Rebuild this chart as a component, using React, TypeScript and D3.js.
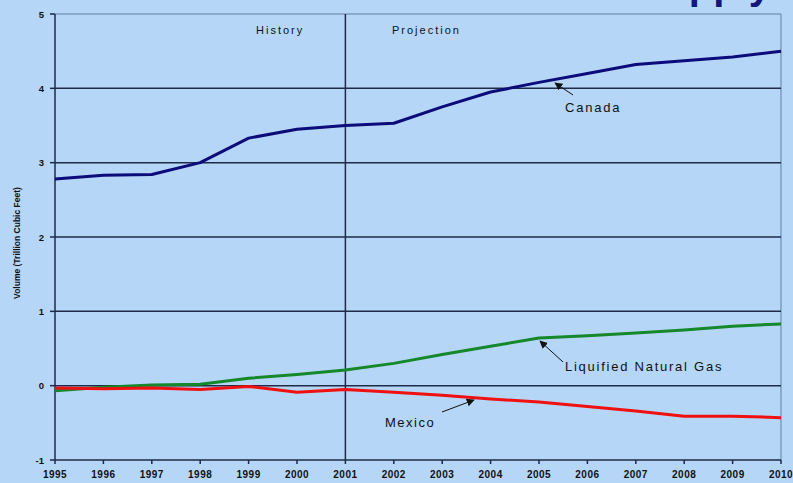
import React from "react";
import * as d3 from "d3";

const years = [1995, 1996, 1997, 1998, 1999, 2000, 2001, 2002, 2003, 2004, 2005, 2006, 2007, 2008, 2009, 2010];
const canada = [2.78, 2.83, 2.84, 3.0, 3.33, 3.45, 3.5, 3.53, 3.75, 3.95, 4.08, 4.2, 4.32, 4.37, 4.42, 4.5];
const lng = [-0.07, -0.02, 0.01, 0.02, 0.1, 0.15, 0.21, 0.3, 0.42, 0.53, 0.64, 0.67, 0.71, 0.75, 0.8, 0.83];
const mexico = [-0.03, -0.04, -0.03, -0.05, -0.01, -0.09, -0.05, -0.09, -0.13, -0.18, -0.22, -0.28, -0.34, -0.41, -0.41, -0.43];
const yTicks = [-1, 0, 1, 2, 3, 4, 5];
const xTickLabels = ["1995", "1996", "1997", "1998", "1999", "2000", "2001", "2002", "2003", "2004", "2005", "2006", "2007", "2008", "2009", "2010"];

const W = 793;
const H = 483;
const BG = "#B5D6F7";
const GRID = "#1E2A48";
const FONT = "'Liberation Sans', Arial, sans-serif";

export default function App() {
  const x = d3.scaleLinear().domain([1995, 2010]).range([55, 781]);
  const y = d3.scaleLinear().domain([-1, 5]).range([460, 14]);
  const line = d3
    .line<number>()
    .x((_, i) => x(years[i]))
    .y((d) => y(d));

  const series = [
    { data: canada, color: "#0B0B7A" },
    { data: lng, color: "#14882A" },
    { data: mexico, color: "#F01010" },
  ];

  return (
    <div style={{ position: "fixed", left: 0, top: 0, width: W, height: H }}>
      <svg width={W} height={H} style={{ display: "block", background: BG }}>
        <rect x={0} y={0} width={W} height={H} fill={BG} />
        {/* cropped title (only descenders visible in the reference) */}
        <text x={771} y={-1} textAnchor="end" fontFamily={FONT} fontWeight="bold" fontSize={40} fill="#16167A">
          Supply
        </text>
        {/* top and right borders */}
        <line x1={x(1995)} x2={x(2010)} y1={y(5)} y2={y(5)} stroke="#7E9BBE" strokeWidth={1.5} />
        <line x1={x(2010)} x2={x(2010)} y1={y(5)} y2={y(-1)} stroke="#7E9BBE" strokeWidth={1.5} />
        {/* gridlines */}
        {yTicks
          .filter((t) => t > -1 && t < 5)
          .map((t) => (
            <line key={t} x1={x(1995)} x2={x(2010)} y1={y(t)} y2={y(t)} stroke={GRID} strokeWidth={1.5} />
          ))}
        {/* history/projection divider */}
        <line x1={x(2001)} x2={x(2001)} y1={y(5)} y2={y(-1)} stroke={GRID} strokeWidth={1.5} />
        {/* axes */}
        <line x1={x(1995)} x2={x(1995)} y1={y(5)} y2={y(-1)} stroke={GRID} strokeWidth={1.5} />
        <line x1={x(1995)} x2={x(2010)} y1={y(-1)} y2={y(-1)} stroke={GRID} strokeWidth={1.5} />
        {yTicks.map((t) => (
          <g key={t}>
            <line x1={x(1995) - 5} x2={x(1995)} y1={y(t)} y2={y(t)} stroke={GRID} strokeWidth={1.5} />
            <text x={44} y={y(t) + 3.5} textAnchor="end" fontFamily={FONT} fontWeight="bold" fontSize={9.5} fill="#111">
              {t}
            </text>
          </g>
        ))}
        {years.map((yr, i) => (
          <g key={yr}>
            <line x1={x(yr)} x2={x(yr)} y1={y(-1)} y2={y(-1) + 4} stroke={GRID} strokeWidth={1.5} />
            <text x={x(yr)} y={478} textAnchor="middle" fontFamily={FONT} fontWeight="bold" fontSize={10} letterSpacing={0.5} fill="#111">
              {xTickLabels[i]}
            </text>
          </g>
        ))}
        <text
          transform="translate(20,243) rotate(-90)"
          textAnchor="middle"
          fontFamily={FONT}
          fontWeight="bold"
          fontSize={8.5}
          fill="#111"
        >
          Volume (Trillion Cubic Feet)
        </text>
        {/* series */}
        {series.map((s, i) => (
          <path key={i} d={line(s.data) || ""} fill="none" stroke={s.color} strokeWidth={3} strokeLinejoin="round" />
        ))}
        {/* section labels */}
        <text x={256} y={34} fontFamily={FONT} fontSize={11} fill="#111" letterSpacing={2}>
          History
        </text>
        <text x={392} y={34} fontFamily={FONT} fontSize={11} fill="#111" letterSpacing={2}>
          Projection
        </text>
        {/* annotations */}
        <defs>
          <marker id="ah" viewBox="0 0 10 10" refX={9} refY={5} markerWidth={8} markerHeight={8} orient="auto">
            <path d="M0,0 L10,5 L0,10 z" fill="#111" />
          </marker>
        </defs>
        <line x1={573} y1={95} x2={555} y2={83} stroke="#111" strokeWidth={1} markerEnd="url(#ah)" />
        <text x={565} y={112} fontFamily={FONT} fontSize={13} fill="#111" letterSpacing={1.8}>
          Canada
        </text>
        <line x1={563} y1={362} x2={540} y2={341} stroke="#111" strokeWidth={1} markerEnd="url(#ah)" />
        <text x={565} y={371} fontFamily={FONT} fontSize={13} fill="#111" letterSpacing={1.75}>
          Liquified Natural Gas
        </text>
        <line x1={442} y1={412} x2={474} y2={400} stroke="#111" strokeWidth={1} markerEnd="url(#ah)" />
        <text x={385} y={427} fontFamily={FONT} fontSize={13} fill="#111" letterSpacing={1.5}>
          Mexico
        </text>
      </svg>
    </div>
  );
}
